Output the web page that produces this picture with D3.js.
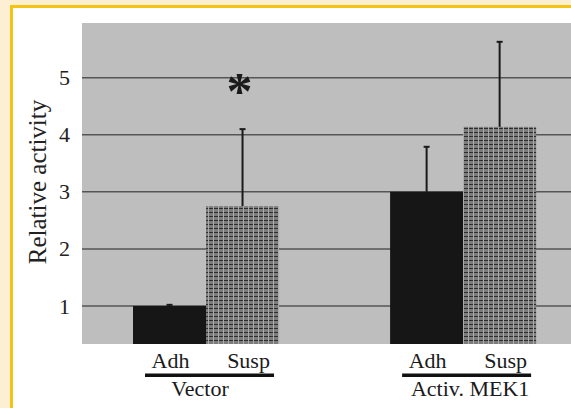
<!DOCTYPE html>
<html>
<head>
<meta charset="utf-8">
<script src="https://cdn.jsdelivr.net/npm/d3@7"></script>
<style>
  body { margin: 0; background: #fcefd2; }
  svg, svg text { font-family: "Times New Roman", "Liberation Serif", "DejaVu Serif", serif; }
  svg { display: block; }
</style>
</head>
<body>
<div id="container"></div>
<script>
/* DATA */
const groups = ["Vector", "Activ. MEK1"];
const conditions = ["Adh", "Susp"];
const means = [[1.0, 2.75], [3.0, 4.14]];
const errors = [[0.02, 1.35], [0.79, 1.49]];
const yTicks = [1, 2, 3, 4, 5];

const width = 571, height = 408;
const plot = { left: 82, right: 571, top: 23, bottom: 344 };
const groupShift = [-6, 7]; // group label nudges, as in the original
const serif = "'Times New Roman', 'Liberation Serif', serif";

const svg = d3.select("#container").append("svg")
  .attr("width", width).attr("height", height);

// hatched pattern for suspension bars
const defs = svg.append("defs");
const pat = defs.append("pattern").attr("id", "grid")
  .attr("patternUnits", "userSpaceOnUse").attr("width", 5).attr("height", 4);
pat.append("rect").attr("width", 5).attr("height", 4).attr("fill", "#7c7c7c");
pat.append("rect").attr("width", 5).attr("height", 1).attr("fill", "#2e2e2e");
pat.append("rect").attr("x", 3).attr("width", 1).attr("height", 4).attr("fill", "#acacac");

// frame
svg.append("rect").attr("x", 11.5).attr("y", 6.5).attr("width", width).attr("height", height)
  .attr("fill", "#fff").attr("stroke", "#f5c313").attr("stroke-width", 3);

/* SCALES */
const y = d3.scaleLinear().domain([1 / 3, 5.96]).range([plot.bottom, plot.top]);
const x = d3.scaleBand().domain(groups).range([plot.left, plot.right])
  .paddingInner(0.432).paddingOuter(0.167).align(0.594);
const xSub = d3.scaleBand().domain(conditions).range([0, x.bandwidth()]);

// plot background
svg.append("rect").attr("x", plot.left).attr("y", plot.top)
  .attr("width", plot.right - plot.left).attr("height", plot.bottom - plot.top)
  .attr("fill", "#bebebe");

// gridlines
svg.append("g").selectAll("line").data(yTicks).join("line")
  .attr("x1", plot.left).attr("x2", plot.right)
  .attr("y1", d => y(d)).attr("y2", d => y(d))
  .attr("stroke", "#555").attr("stroke-width", 1.5);

// y-axis
const yAxis = d3.axisLeft(y).tickValues(yTicks).tickFormat(d3.format("d"))
  .tickSize(0).tickPadding(12);
svg.append("g").attr("transform", `translate(${plot.left},0)`).call(yAxis)
  .attr("font-family", serif)
  .call(g => g.select(".domain").remove())
  .selectAll("text").attr("font-size", 22).attr("fill", "#222");

svg.append("text").attr("transform", "rotate(-90)")
  .attr("x", -182).attr("y", 46).attr("text-anchor", "middle")
  .attr("font-family", serif).attr("font-size", 25).attr("fill", "#222")
  .text("Relative activity");

// bars
const rows = [];
groups.forEach((g, i) => conditions.forEach((c, j) =>
  rows.push({ group: g, cond: c, mean: means[i][j], err: errors[i][j] })));

const barX = d => x(d.group) + xSub(d.cond);
const midX = d => barX(d) + xSub.bandwidth() / 2;

svg.append("g").selectAll("rect").data(rows).join("rect")
  .attr("x", barX).attr("width", xSub.bandwidth())
  .attr("y", d => y(d.mean)).attr("height", d => plot.bottom - y(d.mean))
  .attr("fill", d => d.cond === "Adh" ? "#161616" : "url(#grid)");

// error bars
const eb = svg.append("g").attr("stroke", "#1a1a1a").attr("stroke-width", 2);
eb.selectAll("line.v").data(rows).join("line").attr("class", "v")
  .attr("x1", midX).attr("x2", midX)
  .attr("y1", d => y(d.mean)).attr("y2", d => y(d.mean + d.err));
eb.selectAll("line.c").data(rows).join("line").attr("class", "c")
  .attr("x1", d => midX(d) - 3).attr("x2", d => midX(d) + 3)
  .attr("y1", d => y(d.mean + d.err)).attr("y2", d => y(d.mean + d.err));

// significance star
svg.append("text").attr("x", midX(rows[1]) - 3).attr("y", y(4.87) + 24)
  .attr("text-anchor", "middle").attr("font-family", serif)
  .attr("font-size", 52).attr("font-weight", "bold")
  .attr("fill", "#1a1a1a").text("*");

// category labels
const lab = svg.append("g").attr("font-family", serif)
  .attr("font-size", 22).attr("fill", "#1a1a1a");
lab.selectAll("text.c").data(rows).join("text").attr("class", "c")
  .attr("x", d => midX(d) + (d.cond === "Adh" ? 1 : 6)).attr("y", 368)
  .attr("text-anchor", "middle").text(d => d.cond);

lab.selectAll("rect").data(groups).join("rect")
  .attr("x", d => x(d) + 12).attr("y", 373.5)
  .attr("width", 129).attr("height", 3.5).attr("fill", "#111");

lab.selectAll("text.g").data(groups).join("text").attr("class", "g")
  .attr("x", (d, i) => x(d) + x.bandwidth() / 2 + groupShift[i]).attr("y", 396)
  .attr("text-anchor", "middle").text(d => d);
</script>
</body>
</html>
